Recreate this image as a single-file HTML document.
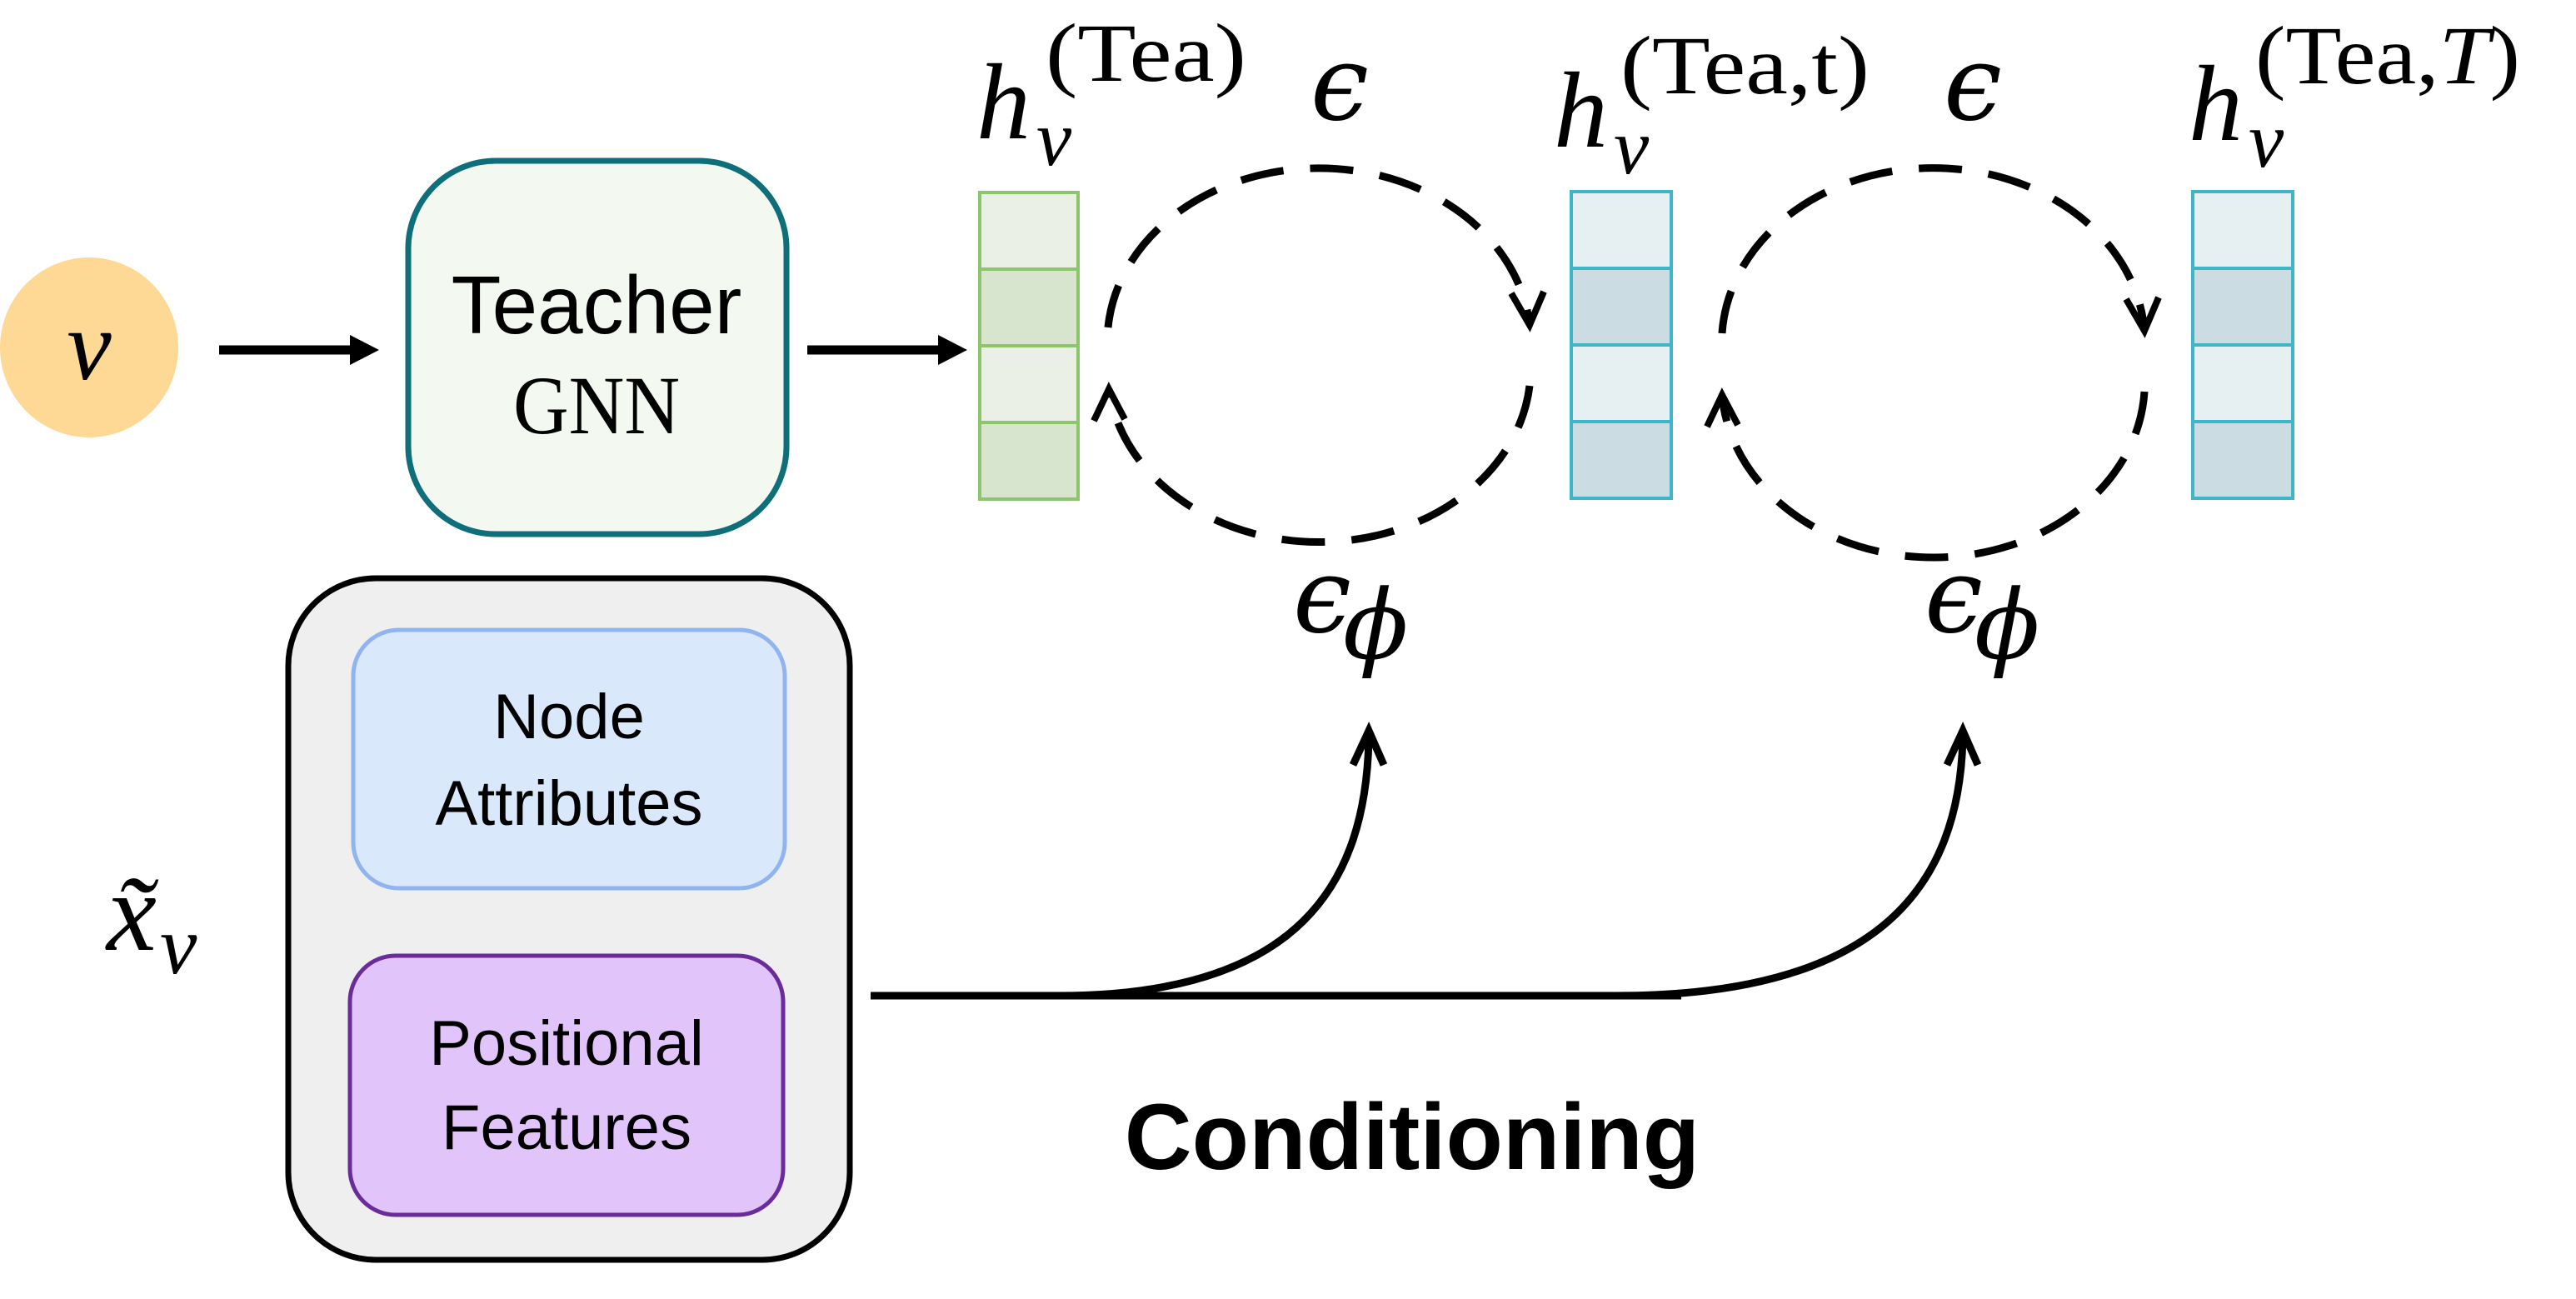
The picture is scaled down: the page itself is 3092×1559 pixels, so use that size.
<!DOCTYPE html>
<html><head><meta charset="utf-8"><style>html,body{margin:0;padding:0;background:#fff}</style></head>
<body>
<svg width="3092" height="1554" viewBox="0 0 3092 1554" xmlns="http://www.w3.org/2000/svg">
<rect width="3092" height="1554" fill="#fff"/>
<!-- v node -->
<ellipse cx="107" cy="417" rx="107" ry="108" fill="#fdd995"/>
<text x="107" y="455" font-family="Liberation Serif, serif" font-style="italic" font-size="120" text-anchor="middle">v</text>
<!-- arrows -->
<g stroke="#000" stroke-width="11" fill="none"><line x1="263" y1="420" x2="430" y2="420"/><line x1="969" y1="420" x2="1136" y2="420"/></g>
<polygon points="420,402 455,420 420,438" fill="#000"/>
<polygon points="1126,402 1161,420 1126,438" fill="#000"/>
<!-- Teacher box -->
<rect x="490" y="193" width="454" height="448" rx="105" fill="#f3f8f1" stroke="#0e6e7a" stroke-width="7"/>
<text x="716" y="400" font-family="Liberation Sans, sans-serif" font-size="98" text-anchor="middle">Teacher</text>
<text x="716" y="520" font-family="Liberation Serif, serif" font-size="100" text-anchor="middle" textLength="200" lengthAdjust="spacingAndGlyphs">GNN</text>
<!-- vectors -->
<g stroke="#8cc66b" stroke-width="4">
<rect x="1176" y="231" width="118" height="92" fill="#eaf0e6"/><rect x="1176" y="323" width="118" height="92" fill="#d7e5cf"/>
<rect x="1176" y="415" width="118" height="92" fill="#eaf0e6"/><rect x="1176" y="507" width="118" height="92" fill="#d7e5cf"/>
</g>
<g stroke="#3fb5c8" stroke-width="4">
<rect x="1886" y="230" width="120" height="92" fill="#e6eff1"/><rect x="1886" y="322" width="120" height="92" fill="#cbdde2"/>
<rect x="1886" y="414" width="120" height="92" fill="#e6eff1"/><rect x="1886" y="506" width="120" height="92" fill="#cbdde2"/>
<rect x="2632" y="230" width="120" height="92" fill="#e6eff1"/><rect x="2632" y="322" width="120" height="92" fill="#cbdde2"/>
<rect x="2632" y="414" width="120" height="92" fill="#e6eff1"/><rect x="2632" y="506" width="120" height="92" fill="#cbdde2"/>
</g>
<!-- dashed loops -->
<g stroke="#000" stroke-width="9" fill="none" stroke-dasharray="52 32">
<path d="M1330 393 A254 208 0 0 1 1836 390"/>
<path d="M1836 463 A254 208 0 0 1 1331 467"/>
<path d="M2067 400 A254 210 0 0 1 2574 397"/>
<path d="M2574 470 A254 210 0 0 1 2067 474"/>
</g>
<g stroke="#000" stroke-width="8" fill="none">
<polyline points="1814,352 1836,390 1853,350"/>
<polyline points="1313,505 1331,467 1350,503"/>
<polyline points="2552,359 2574,397 2591,357"/>
<polyline points="2049,512 2067,474 2086,510"/>
</g>
<!-- h labels -->
<g font-family="Liberation Serif, serif">
<text x="1172" y="166" font-size="130" font-style="italic">h</text>
<text x="1244" y="198" font-size="95" font-style="italic">v</text>
<text x="1255" y="97" font-size="100" textLength="241" lengthAdjust="spacingAndGlyphs">(Tea)</text>
<text x="1865" y="176" font-size="130" font-style="italic">h</text>
<text x="1937" y="208" font-size="95" font-style="italic">v</text>
<text x="1945" y="112" font-size="100" textLength="299" lengthAdjust="spacingAndGlyphs">(Tea,t)</text>
<text x="2627" y="168" font-size="130" font-style="italic">h</text>
<text x="2699" y="200" font-size="95" font-style="italic">v</text>
<text x="2707" y="100" font-size="100" textLength="318" lengthAdjust="spacingAndGlyphs">(Tea,<tspan font-style="italic">T</tspan>)</text>
</g>
<g font-family="DejaVu Serif, serif" font-style="italic">
<text x="1608" y="143" font-size="125" text-anchor="middle">ϵ</text>
<text x="2368" y="143" font-size="125" text-anchor="middle">ϵ</text>
<text x="1552" y="758" font-size="125">ϵ</text>
<text x="1612" y="790" font-size="115">ϕ</text>
<text x="2310" y="758" font-size="125">ϵ</text>
<text x="2370" y="790" font-size="115">ϕ</text>
</g>
<!-- conditioning box -->
<rect x="346" y="694" width="674" height="818" rx="105" fill="#efefef" stroke="#000" stroke-width="7"/>
<rect x="424" y="756" width="518" height="310" rx="55" fill="#dae8fc" stroke="#8fb4f0" stroke-width="5"/>
<rect x="420" y="1147" width="520" height="311" rx="55" fill="#e1c4fa" stroke="#6a2c9a" stroke-width="5"/>
<g font-family="Liberation Sans, sans-serif" font-size="76" text-anchor="middle">
<text x="683" y="886">Node</text><text x="683" y="990">Attributes</text>
<text x="680" y="1278">Positional</text><text x="680" y="1379">Features</text>
</g>
<text x="128" y="1140" font-family="Liberation Serif, serif" font-style="italic" font-size="135">x̃</text>
<text x="192" y="1168" font-family="Liberation Serif, serif" font-style="italic" font-size="100">v</text>
<!-- conditioning lines -->
<g stroke="#000" stroke-width="9" fill="none">
<line x1="1045" y1="1195" x2="2018" y2="1195"/>
<path d="M1270 1195 C1560 1195 1640 1060 1643 885"/>
<path d="M1940 1195 C2260 1195 2352 1060 2356 885"/>
<polyline points="1624,918 1643,877 1661,918"/>
<polyline points="2337,918 2356,877 2374,918"/>
</g>
<text x="1695" y="1403" font-family="Liberation Sans, sans-serif" font-weight="bold" font-size="112" text-anchor="middle">Conditioning</text>
</svg>
</body></html>
